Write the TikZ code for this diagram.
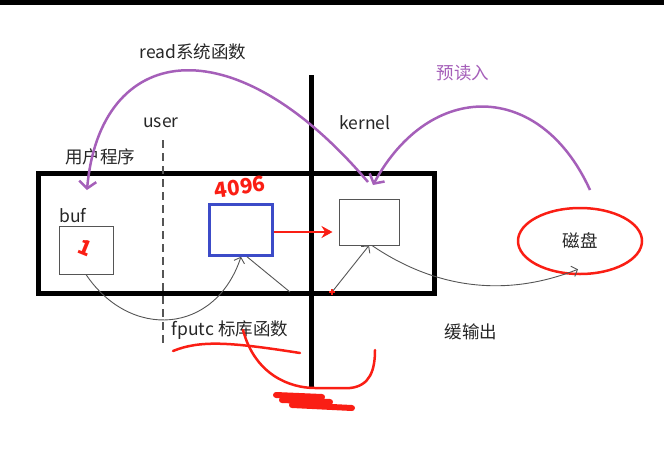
\documentclass[tikz,border=0pt]{standalone}
\usepackage{fontspec}
\usetikzlibrary{arrows.meta,shapes.geometric}
\newfontfamily\cjk{Noto Sans CJK SC}
\definecolor{penred}{RGB}{250,30,20}
\definecolor{lilac}{RGB}{165,95,185}
\definecolor{boxblue}{RGB}{60,75,200}
\definecolor{wiregray}{RGB}{85,85,85}
\tikzset{
  lbl/.style={font=\cjk\fontsize{17.5}{19}\selectfont, text=black!85, inner sep=0pt},
  thinbox/.style={draw=wiregray, line width=1pt, inner sep=0pt},
  wire/.style={draw=wiregray, line width=0.9pt},
  barb/.style={-{Straight Barb[length=5pt,width=11pt]}},
  hand/.style={draw=penred, line width=2.5pt, line cap=round, line join=round},
  swing/.style={draw=lilac, line width=2.5pt, -{Straight Barb[length=7pt,width=17pt]}},
}

\begin{document}
\begin{tikzpicture}[x=1pt,y=-1pt]
\useasboundingbox (0,0) rectangle (664,453);
\fill (0,0) rectangle (664,5);

% boxes
\node[draw=black, line width=5pt, minimum width=396pt, minimum height=120pt, inner sep=0pt](prog) at (236.5,233.5) {};
\node[thinbox, minimum width=54pt, minimum height=48pt](buf) at (86,250) {};
\node[draw=boxblue, line width=2.5pt, minimum width=63pt, minimum height=51pt, inner sep=0pt](cache) at (241,230) {};
\node[thinbox, minimum width=60pt, minimum height=46pt](kbuf) at (369,222) {};
\node[ellipse, draw=penred, line width=2.5pt, minimum width=124pt, minimum height=66pt, lbl](disk) at (580,241) {磁盘};

% user | kernel
\coordinate (top) at (311,75);
\coordinate (bot) at (311,388);
\draw[line width=5pt] (top) -- (bot);
\coordinate (dtop) at (163,140);
\coordinate (dbot) at (163,345);
\draw[wiregray, line width=1.3pt, dash pattern=on 8pt off 5pt] (dtop) -- (dbot);

\node[lbl](read) at (193,52) {read系统函数};
\node[lbl](user) at (161,123) {user};
\node[lbl](prgname) at (100,157) {用户程序};
\node[lbl](kern) at (365,123) {kernel};
\node[lbl, text=lilac](pre) at (463,73) {预读入};
\node[lbl](buflbl) at (73,216) {buf};
\node[lbl](fputc) at (230,330) {fputc 标库函数};
\node[lbl](slow) at (471,332) {缓输出};

% red pen
\node[lbl, text=penred, font=\cjk\bfseries\fontsize{21}{21}\selectfont, rotate=-22](one) at (85,248) {1};
\node[lbl, text=penred, font=\cjk\bfseries\fontsize{21}{21}\selectfont, rotate=8](size) at (240,187) {4096};

% read
\coordinate (rdstart) at (368,182);
\coordinate (rdend) at (87,190);
\draw[swing] (rdstart) .. controls (230,20) and (100,45) .. (rdend);
\coordinate (prestart) at (590,190);
\coordinate (preend) at (373,185);
\draw[swing] (prestart) .. controls (540,80) and (430,80) .. (preend);

% write
\draw[wire, barb] (buf.south) .. controls (130,340) and (215,335) .. (cache.south);
\coordinate (c1) at (290,292);
\draw[wire] ([xshift=6pt]cache.south) -- (c1);
\coordinate (k1) at (332,292);
\draw[wire, barb] (k1) -- (kbuf.south);
\draw[wire, barb] ([xshift=3pt]kbuf.south) .. controls (430,285) and (500,300) .. ([xshift=-2pt,yshift=6pt]disk.south);
\draw[penred, line width=1.2pt] (k1) +(-3,0) -- +(3,0) (k1) +(0,-3) -- +(0,3);
\draw[penred, line width=2.5pt, -{Stealth[length=11pt,width=12pt]}] ([yshift=-2pt]cache.east) -- ([yshift=-2pt,xshift=-6pt]cache.east -| kbuf.west);

\draw[hand] (173,351) .. controls (200,340) and (230,342) .. (300,353);
\draw[hand] (243,330) .. controls (255,375) and (290,388) .. (315,388) -- (350,388) .. controls (370,386) and (375,370) .. (375,350);
\draw[hand, line width=6pt] (276,395) -- (322,397) -- (282,400) -- (330,402) -- (292,405) -- (352,408);
\end{tikzpicture}
\end{document}
